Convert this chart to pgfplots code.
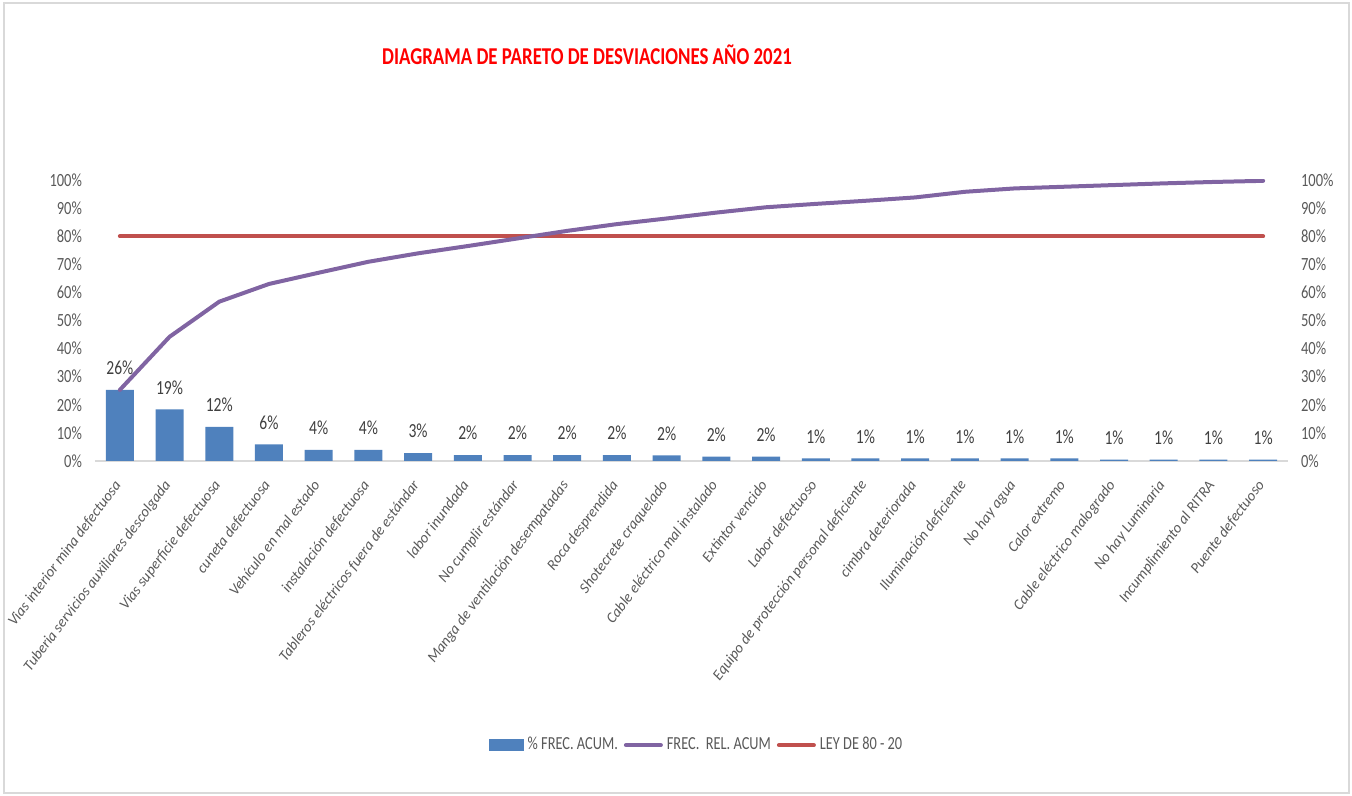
\documentclass[border=0pt]{standalone}
\usepackage{fontspec}
\setmainfont{Carlito}[FakeStretch=0.78]
\newfontfamily\labfont{Carlito}
\usepackage{pgfplots}
\pgfplotsset{compat=1.18}
\definecolor{barblue}{HTML}{4F81BD}
\definecolor{linepurple}{HTML}{8064A2}
\definecolor{linered}{HTML}{C0504D}
\definecolor{ticktext}{HTML}{595959}
\definecolor{labtext}{HTML}{404040}
\definecolor{axgray}{HTML}{D9D9D9}

\begin{document}
\begin{tikzpicture}
\begin{axis}[
  at={(0,0)}, anchor=south west,
  width=596.5pt, height=140.5pt, scale only axis,
  xmin=-0.5, xmax=23.5, ymin=0, ymax=100,
  axis x line*=bottom, axis y line*=left,
  x axis line style={axgray, line width=0.8pt, -},
  y axis line style={draw=none},
  major tick length=0pt,
  ytick={0,10,...,100},
  yticklabels={0\%,10\%,20\%,30\%,40\%,50\%,60\%,70\%,80\%,90\%,100\%},
  yticklabel style={font=\fontsize{9.3}{10}\selectfont, text=ticktext, xshift=-3pt},
  xtick={0,...,23},
  xticklabels={Vias interior mina defectuosa,Tuberia servicios auxiliares descolgada,
    Vias superficie defectuosa,cuneta defectuosa,Vehículo en mal estado,
    instalación defectuosa,Tableros eléctricos fuera de estándar,labor inundada,
    No cumplir estándar,Manga de ventilación desempatadas,Roca desprendida,
    Shotecrete craquelado,Cable eléctrico mal instalado,Extintor vencido,
    Labor defectuoso,Equipo de protección personal deficiente,cimbra deteriorada,
    Iluminación deficiente,No hay agua,Calor extremo,Cable eléctrico malogrado,
    No hay Luminaria,Incumplimiento al RITRA,Puente defectuoso},
  xticklabel style={xshift=-4pt, yshift=-4pt, rotate=53, anchor=north east,
    text=ticktext, font=\labfont\fontsize{7.5}{8}\selectfont\itshape},
  legend style={at={(0.505,-1.011)}, anchor=center, draw=none, fill=none,
    legend columns=3, font=\fontsize{9.2}{10}\selectfont, text=ticktext,
    /tikz/every even column/.append style={column sep=1pt},
    inner sep=1pt},
  legend cell align=left,
  legend image code/.code={\draw[#1] (0pt,0pt) -- (17.5pt,0pt);},
]
\addplot[ybar, bar width=14pt, fill=barblue, draw=none,
  nodes near coords, point meta=explicit symbolic,
  every node near coord/.append style={font=\fontsize{10}{11}\selectfont,
    text=labtext, yshift=4pt},
  legend image code/.code={\fill[barblue] (0pt,-3pt) rectangle (17.5pt,3pt);}]
coordinates {
 (0,25.3) [26\%] (1,18.4) [19\%] (2,12.1) [12\%] (3,5.9) [6\%]
 (4,4.0) [4\%] (5,4.0) [4\%] (6,2.8) [3\%] (7,2.1) [2\%]
 (8,2.1) [2\%] (9,2.1) [2\%] (10,2.1) [2\%] (11,2.0) [2\%]
 (12,1.6) [2\%] (13,1.6) [2\%] (14,0.9) [1\%] (15,0.9) [1\%]
 (16,0.9) [1\%] (17,0.9) [1\%] (18,0.9) [1\%] (19,0.9) [1\%]
 (20,0.5) [1\%] (21,0.5) [1\%] (22,0.5) [1\%] (23,0.5) [1\%]
};
\addlegendentry{\% FREC. ACUM.}
\addlegendimage{linepurple, line width=2pt, line cap=round}
\addlegendentry{FREC.\ \ REL. ACUM}
\addlegendimage{linered, line width=2pt, line cap=round}
\addlegendentry{LEY DE 80 - 20}
\addplot[linered, line width=2pt, line cap=round, forget plot] coordinates {
 (0,80) (1,80) (2,80) (3,80) (4,80) (5,80) (6,80) (7,80) (8,80) (9,80) (10,80)
 (11,80) (12,80) (13,80) (14,80) (15,80) (16,80) (17,80) (18,80) (19,80)
 (20,80) (21,80) (22,80) (23,80)
};
\addplot[linepurple, line width=2pt, line cap=round, line join=round, forget plot] coordinates {
 (0,25.3) (1,44.2) (2,56.7) (3,63.0) (4,67.0) (5,70.9) (6,73.9) (7,76.5)
 (8,79.2) (9,81.9) (10,84.3) (11,86.3) (12,88.4) (13,90.3) (14,91.5)
 (15,92.6) (16,93.8) (17,95.8) (18,97.0) (19,97.6) (20,98.2) (21,98.8)
 (22,99.3) (23,99.7)
};
\end{axis}
\begin{axis}[
  at={(0,0)}, anchor=south west,
  width=596.5pt, height=140.5pt, scale only axis,
  xmin=-0.5, xmax=23.5, ymin=0, ymax=100,
  axis x line=none, axis y line*=right,
  y axis line style={draw=none},
  major tick length=0pt,
  ytick={0,10,...,100},
  yticklabels={0\%,10\%,20\%,30\%,40\%,50\%,60\%,70\%,80\%,90\%,100\%},
  yticklabel style={font=\fontsize{9.3}{10}\selectfont, text=ticktext, xshift=3pt},
]
\end{axis}
\node[font=\fontsize{12.1}{13}\selectfont\bfseries, text=red]
  at (246pt,203pt) {DIAGRAMA DE PARETO DE DESVIACIONES AÑO 2021};
\draw[axgray, line width=0.8pt] (-45.5pt,-166pt) rectangle (627pt,229pt);
\pgfresetboundingbox
\path[use as bounding box] (-47.5pt,-167.5pt) rectangle (628.5pt,230.5pt);
\end{tikzpicture}
\end{document}
